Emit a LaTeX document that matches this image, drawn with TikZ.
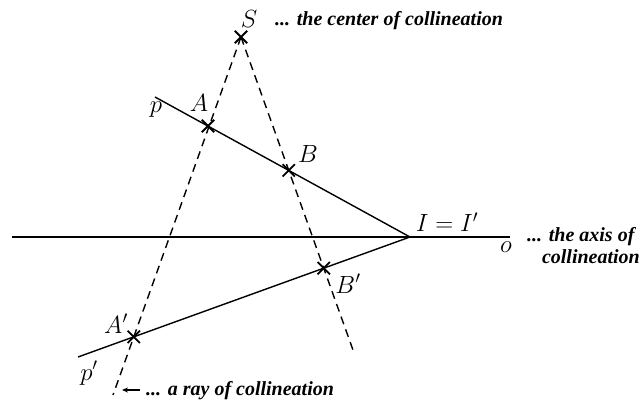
\documentclass[tikz,border=0pt]{standalone}
\usepackage{fontspec}
\newfontfamily\annotfont{Liberation Serif}
\usetikzlibrary{shapes.misc,arrows.meta}
\tikzset{
  solidline/.style={line width=1.4pt},
  dashline/.style={line width=1.4pt, dash pattern=on 8pt off 5.5pt},
  crossmark/.style={draw, cross out, minimum size=10.5pt, inner sep=0pt, line width=1.8pt},
  mathlabel/.style={inner sep=0pt, font=\fontsize{25.5}{30}\selectfont},
  annot/.style={inner sep=0pt, font=\fontsize{20}{23}\selectfont\annotfont\bfseries\itshape},
}
\begin{document}
\begin{tikzpicture}[x=1pt,y=-1pt]
\useasboundingbox (0,0) rectangle (642,403);
% base points
\coordinate (S) at (241,37);
\coordinate (I) at (410,237);
\coordinate (A) at (208,126);
\coordinate (pstart) at (155,97);
\coordinate (ppstart) at (78,357);
\coordinate (ostart) at (12,237);
\coordinate (oend) at (510,237);
\coordinate (SAend) at (113,395);
\coordinate (SBend) at (353,350);
% derived points
\coordinate (B) at (intersection of S--SBend and pstart--I);
\coordinate (Ap) at (intersection of S--SAend and ppstart--I);
\coordinate (Bp) at (intersection of S--SBend and ppstart--I);
% lines
\draw[solidline] (ostart) -- (oend);
\draw[solidline] (pstart) -- (I);
\draw[solidline] (ppstart) -- (I);
\draw[dashline] (S) -- (SAend);
\draw[dashline] (S) -- (SBend);
% crosses
\node[crossmark] (xS) at (S) {};
\node[crossmark] (xA) at (A) {};
\node[crossmark] (xB) at (B) {};
\node[crossmark] (xAp) at (Ap) {};
\node[crossmark] (xBp) at (Bp) {};
% math labels
\node[mathlabel, anchor=base] (lS) at (249,28) {$S$};
\node[mathlabel, anchor=base] (lA) at (199,112) {$A$};
\node[mathlabel, anchor=base] (lp) at (156,113) {$p$};
\node[mathlabel, anchor=base] (lB) at (308,163) {$B$};
\node[mathlabel, anchor=base] (lI) at (447,232) {$I=I'$};
\node[mathlabel, anchor=base] (lo) at (506,253) {$o$};
\node[mathlabel, anchor=base] (lBp) at (348,293) {$B'$};
\node[mathlabel, anchor=base] (lAp) at (116,333) {$A'$};
\node[mathlabel, anchor=base] (lpp) at (89,380) {$p'$};
% annotations
\node[annot, anchor=base west] (tS) at (275,26) {... the center of collineation};
\node[annot, anchor=base west] (to1) at (527,242) {... the axis of};
\node[annot, anchor=base east] (to2) at (640,263) {collineation};
\node[annot, anchor=base west] (tr) at (146,395) {... a ray of collineation};
\coordinate (arrS) at (140,390);
\coordinate (arrE) at (122,390);
\draw[line width=1.3pt, -{Stealth[length=6pt,width=5pt]}] (arrS) -- (arrE);
\end{tikzpicture}
\end{document}
